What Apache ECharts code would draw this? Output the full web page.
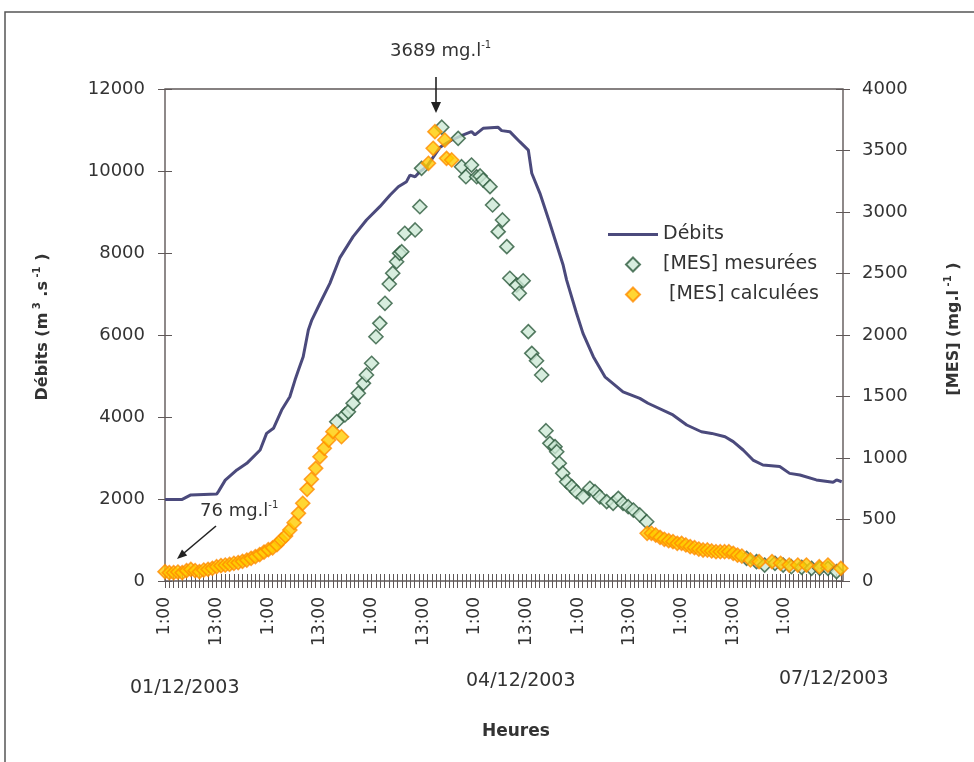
<!DOCTYPE html>
<html>
<head>
<meta charset="utf-8">
<script src="https://cdn.jsdelivr.net/npm/echarts@6.0.0/dist/echarts.min.js"></script>
<style>
  html, body { margin: 0; padding: 0; background: #fff; }
  #chart { width: 974px; height: 762px; }
</style>
</head>
<body>
<div id="chart"></div>
<script>
// heures depuis le 01/12/2003 1:00
const debitHours = [0, 4, 6, 12, 12.4, 14, 16.7, 19, 22.1, 23.6, 25.2, 27.1, 29, 30.2, 31, 32.1, 33.3, 34.1, 36, 38.3,
  40.6, 43.7, 46.8, 49.9, 52.3, 54.2, 56.1, 56.9, 58.1, 59.2, 60.8, 63.9, 66.5, 69.3, 71.2, 72, 73.9, 77.4, 78.2, 80.1,
  82.4, 84.4, 85.2, 87.1, 89.4, 92.5, 93.3, 95.6, 97.1, 99.5, 102.2, 106.4, 110.3, 112.2, 118, 121.2, 124.6, 127, 130.1, 132,
  134.3, 136.6, 138.9, 142.8, 145.1, 147.5, 151.3, 155.2, 156, 157.2]
const debitValues = [1990, 1990, 2100, 2120, 2180, 2460, 2710, 2870, 3195, 3600, 3725, 4170, 4495, 4900, 5145, 5470, 6120, 6365, 6775, 7260,
  7880, 8400, 8805, 9130, 9415, 9615, 9740, 9900, 9860, 9985, 10105, 10580, 10750, 10880, 10960, 10880, 11040, 11065, 10985, 10960,
  10715, 10510, 9945, 9455, 8725, 7700, 7340, 6530, 6040, 5470, 4980, 4615, 4455, 4335, 4050, 3805, 3640, 3600, 3520, 3400,
  3195, 2950, 2830, 2790, 2625, 2585, 2465, 2410, 2465, 2420]

const mesHours = [39.9, 41.8, 42.6, 43.7, 44.9, 46.1, 46.8, 48, 49, 49.9, 51.1, 52.1, 52.9, 53.8, 54.5, 55, 55.7, 58.1, 59.2, 59.6,
  64.3, 68.1, 68.9, 69.9, 71.2, 72.4, 73.2, 73.9, 75.5, 76.1, 77.4, 78.4, 79.4, 80.1, 81.7, 82.3, 83.2, 84.4, 85.2, 86.3,
  87.5, 88.5, 89.4, 90.6, 91, 91.6, 92.4, 93.3, 94.5, 95.6, 97.1, 98.7, 99.9, 101, 102.6, 104.1, 105.3, 106.4, 107.6, 108.8,
  110.3, 111.9, 135.1, 137.4, 139.3, 141.7, 143.6, 145.5, 147.9, 150.2, 152.1, 154, 156]
const mesValues = [1295, 1350, 1376, 1445, 1526, 1607, 1675, 1770, 1986, 2095, 2258, 2415, 2502, 2596, 2664, 2677, 2827, 2854, 3043, 3355,
  3689, 3599, 3368, 3287, 3382, 3287, 3293, 3260, 3206, 3057, 2840, 2935, 2718, 2461, 2406, 2339, 2441, 2027, 1851, 1791,
  1675, 1222, 1119, 1092, 1051, 957, 876, 807, 767, 726, 685, 754, 726, 685, 645, 632, 672, 632, 604, 577,
  537, 482, 184, 157, 130, 144, 130, 116, 111, 103, 103, 103, 76]

const calcHours = [0, 1, 2, 3, 4, 5, 6, 7, 8, 9, 10, 11, 12, 13, 14, 15, 16, 17, 18, 19,
  20, 21, 22, 23, 24, 25, 26, 27, 28, 29, 30, 31, 32, 33, 34, 35, 36, 37, 38, 39,
  41, 61.2, 62.3, 62.7, 65, 65.4, 66.6, 112, 113, 114, 115, 116, 117, 118, 119, 120,
  121, 122, 123, 124, 125, 126, 127, 128, 129, 130, 131, 132, 133, 134, 136, 138, 141, 143, 145, 147,
  149, 152, 154, 157]
const calcValues = [76, 68, 68, 73, 68, 84, 95, 84, 76, 89, 95, 103, 116, 125, 130, 135, 144, 149, 160, 170,
  184, 198, 215, 235, 255, 270, 295, 333, 366, 415, 474, 550, 632, 745, 827, 916, 1010, 1079, 1146, 1214,
  1173, 3396, 3518, 3653, 3585, 3436, 3423, 388, 388, 374, 355, 339, 328, 320, 306, 306,
  293, 279, 271, 260, 252, 252, 244, 238, 238, 238, 238, 225, 210, 203, 171, 157, 157, 144, 130, 130,
  130, 116, 130, 103]

const hourLabels = ['1:00', '13:00']
const dateLabels = ['01/12/2003', '04/12/2003', '07/12/2003']

const FONT = 'DejaVu Sans'
const TEXT = '#333333'
const AXIS = '#5f5858'
// les graduations traversent l'axe : on décale l'axe de 7px vers l'intérieur
const TICK_HALF = 7

const nameRich = {
  b: { fontFamily: FONT, fontSize: 16, fontWeight: 'bold', color: TEXT, lineHeight: 22 },
  s: { fontFamily: FONT, fontSize: 10, fontWeight: 'bold', color: TEXT, verticalAlign: 'top' }
}
const noteRich = {
  b: { fontFamily: FONT, fontSize: 18, fill: TEXT, lineHeight: 22 },
  s: { fontFamily: FONT, fontSize: 10, fill: TEXT, verticalAlign: 'top' }
}

function _pairs(xs, ys) {
  return xs.map((x, i) => [x, ys[i]])
}

function _ticks() {
  return { show: true, length: TICK_HALF * 2, lineStyle: { color: AXIS, width: 1 } }
}

const chart = echarts.init(document.getElementById('chart'))

chart.setOption({
  backgroundColor: '#fff',
  animation: false,
  textStyle: { fontFamily: FONT, color: TEXT },
  grid: {
    left: 165, right: 131, top: 89, bottom: 181,
    show: true, borderColor: AXIS, borderWidth: 1.4, backgroundColor: 'transparent'
  },
  legend: {
    orient: 'vertical',
    left: 603,
    top: 220,
    itemWidth: 50,
    itemHeight: 14,
    itemGap: 11,
    symbolKeepAspect: true,
    textStyle: { fontFamily: FONT, fontSize: 19, color: TEXT },
    formatter: name => name === '[MES] calculées' ? ' ' + name : name,
    data: [
      { name: 'Débits', icon: 'path://M0,0H50V3H0Z' },
      { name: '[MES] mesurées', icon: 'path://M7,0L14,7L7,14L0,7Z' },
      { name: '[MES] calculées', icon: 'path://M7,0L14,7L7,14L0,7Z' }
    ]
  },
  xAxis: {
    type: 'value',
    min: 0,
    max: 157.5,
    interval: 1,
    offset: -TICK_HALF,
    axisLine: { show: false },
    axisTick: _ticks(),
    axisLabel: {
      rotate: 90,
      margin: 23,
      fontFamily: FONT,
      fontSize: 17,
      color: TEXT,
      showMinLabel: true,
      showMaxLabel: false,
      formatter: v => (v % 12 === 0 && v <= 144 ? hourLabels[(v / 12) % 2] : '')
    },
    splitLine: { show: false }
  },
  yAxis: [{
    type: 'value',
    min: 0,
    max: 12000,
    interval: 2000,
    position: 'left',
    offset: -TICK_HALF,
    name: '{b|Débits (m}{s| 3}{b| .s}{s| -1}{b| )}',
    nameLocation: 'middle',
    nameRotate: 90,
    nameGap: 118,
    nameTextStyle: { rich: nameRich, padding: [0, 0, 0, 16] },
    axisLine: { show: false },
    axisTick: _ticks(),
    axisLabel: { fontFamily: FONT, fontSize: 18, color: TEXT, margin: 27, formatter: v => String(v) },
    splitLine: { show: false }
  }, {
    type: 'value',
    min: 0,
    max: 4000,
    interval: 500,
    position: 'right',
    offset: -TICK_HALF,
    name: '{b|[MES] (mg.l}{s| -1}{b| )}',
    nameLocation: 'middle',
    nameRotate: 90,
    nameGap: 107,
    nameTextStyle: { rich: nameRich, padding: [0, 0, 0, 12] },
    axisLine: { show: false },
    axisTick: _ticks(),
    axisLabel: { fontFamily: FONT, fontSize: 18, color: TEXT, margin: 26, formatter: v => String(v) },
    splitLine: { show: false }
  }],
  series: [{
    name: 'Débits',
    type: 'line',
    yAxisIndex: 0,
    symbol: 'none',
    lineStyle: { color: '#4b4a7c', width: 3 },
    itemStyle: { color: '#4b4a7c' },
    data: _pairs(debitHours, debitValues),
    z: 2
  }, {
    name: '[MES] mesurées',
    type: 'scatter',
    yAxisIndex: 1,
    symbol: 'diamond',
    symbolSize: 14,
    itemStyle: { color: '#cde8d6', borderColor: '#2c5a3c', borderWidth: 1.6 },
    data: _pairs(mesHours, mesValues),
    z: 3
  }, {
    name: '[MES] calculées',
    type: 'scatter',
    yAxisIndex: 1,
    symbol: 'diamond',
    symbolSize: 14,
    itemStyle: { color: '#ffcc00', borderColor: '#ff8c00', borderWidth: 1.6 },
    data: _pairs(calcHours, calcValues),
    z: 4
  }],
  graphic: [
    // cadre
    { type: 'rect', shape: { x: 5, y: 12, width: 1000, height: 800 }, style: { fill: null, stroke: '#555', lineWidth: 1.5 }, silent: true },
    { type: 'text', left: 130, top: 679, style: { text: dateLabels[0], font: '19px "DejaVu Sans"', fill: TEXT } },
    { type: 'text', left: 466, top: 672, style: { text: dateLabels[1], font: '19px "DejaVu Sans"', fill: TEXT } },
    { type: 'text', left: 779, top: 670, style: { text: dateLabels[2], font: '19px "DejaVu Sans"', fill: TEXT } },
    { type: 'text', left: 482, top: 723, style: { text: 'Heures', font: 'bold 17px "DejaVu Sans"', fill: TEXT } },
    // annotation du pic
    { type: 'text', left: 390, top: 40, style: { text: '{b|3689 mg.l}{s|-1}', rich: noteRich } },
    { type: 'line', shape: { x1: 436, y1: 77, x2: 436, y2: 104 }, style: { stroke: '#222', lineWidth: 1.6 } },
    { type: 'polygon', shape: { points: [[431, 102], [441, 102], [436, 113]] }, style: { fill: '#222' } },
    // annotation du minimum
    { type: 'text', left: 200, top: 500, style: { text: '{b|76 mg.l}{s|-1}', rich: noteRich } },
    { type: 'line', shape: { x1: 216, y1: 526, x2: 184, y2: 553 }, style: { stroke: '#222', lineWidth: 1.6 } },
    { type: 'polygon', shape: { points: [[177, 559], [187.2, 555.6], [182, 549.4]] }, style: { fill: '#222' } }
  ]
})
</script>
</body>
</html>
